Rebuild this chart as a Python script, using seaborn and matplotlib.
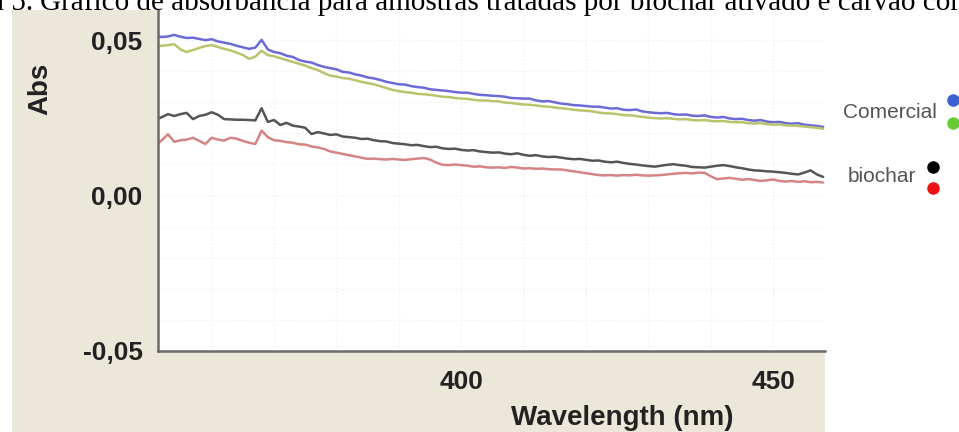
import numpy as np
import pandas as pd
import matplotlib
matplotlib.use("Agg")
import matplotlib.pyplot as plt
import seaborn as sns
from matplotlib.patches import Rectangle
from matplotlib.lines import Line2D

# wavelength grid (nm), 1 nm steps
wavelength = np.arange(351, 459)

comercial_a = [  # blue trace
    0.0513, 0.0510, 0.0512, 0.0517, 0.0511, 0.0507, 0.0508, 0.0504, 0.0500, 0.0503,
    0.0496, 0.0492, 0.0488, 0.0482, 0.0477, 0.0472, 0.0476, 0.0501, 0.0470, 0.0462,
    0.0458, 0.0450, 0.0446, 0.0436, 0.0431, 0.0428, 0.0420, 0.0414, 0.0410, 0.0406,
    0.0398, 0.0396, 0.0390, 0.0386, 0.0380, 0.0377, 0.0372, 0.0366, 0.0362, 0.0358,
    0.0357, 0.0352, 0.0349, 0.0347, 0.0342, 0.0340, 0.0338, 0.0336, 0.0333, 0.0331,
    0.0331, 0.0327, 0.0324, 0.0323, 0.0321, 0.0320, 0.0318, 0.0314, 0.0313, 0.0312,
    0.0312, 0.0306, 0.0303, 0.0304, 0.0300, 0.0296, 0.0294, 0.0291, 0.0290, 0.0288,
    0.0286, 0.0286, 0.0283, 0.0280, 0.0281, 0.0276, 0.0275, 0.0277, 0.0271, 0.0268,
    0.0266, 0.0265, 0.0266, 0.0262, 0.0260, 0.0261, 0.0257, 0.0256, 0.0258, 0.0253,
    0.0251, 0.0253, 0.0248, 0.0246, 0.0247, 0.0243, 0.0241, 0.0243, 0.0238, 0.0236,
    0.0237, 0.0233, 0.0231, 0.0233, 0.0228, 0.0226, 0.0224, 0.0221,
]
comercial_b = [  # green trace
    0.0480, 0.0482, 0.0484, 0.0487, 0.0470, 0.0462, 0.0468, 0.0475, 0.0481, 0.0484,
    0.0478, 0.0472, 0.0467, 0.0460, 0.0452, 0.0440, 0.0447, 0.0466, 0.0452, 0.0448,
    0.0442, 0.0436, 0.0430, 0.0424, 0.0418, 0.0410, 0.0404, 0.0394, 0.0386, 0.0383,
    0.0378, 0.0376, 0.0371, 0.0366, 0.0362, 0.0358, 0.0352, 0.0346, 0.0340, 0.0336,
    0.0333, 0.0331, 0.0327, 0.0326, 0.0324, 0.0321, 0.0318, 0.0317, 0.0314, 0.0312,
    0.0311, 0.0308, 0.0306, 0.0306, 0.0304, 0.0303, 0.0299, 0.0298, 0.0295, 0.0293,
    0.0292, 0.0290, 0.0287, 0.0286, 0.0283, 0.0281, 0.0279, 0.0276, 0.0274, 0.0273,
    0.0271, 0.0267, 0.0265, 0.0264, 0.0262, 0.0259, 0.0258, 0.0256, 0.0253, 0.0251,
    0.0249, 0.0248, 0.0249, 0.0247, 0.0245, 0.0246, 0.0243, 0.0242, 0.0243, 0.0240,
    0.0239, 0.0240, 0.0237, 0.0236, 0.0236, 0.0233, 0.0232, 0.0233, 0.0230, 0.0228,
    0.0229, 0.0226, 0.0225, 0.0224, 0.0222, 0.0220, 0.0218, 0.0215,
]
biochar_a = [  # black trace
    0.0244, 0.0252, 0.0262, 0.0256, 0.0262, 0.0266, 0.0246, 0.0256, 0.0260, 0.0268,
    0.0260, 0.0246, 0.0245, 0.0244, 0.0244, 0.0243, 0.0242, 0.0281, 0.0237, 0.0243,
    0.0227, 0.0234, 0.0225, 0.0222, 0.0218, 0.0198, 0.0204, 0.0200, 0.0195, 0.0197,
    0.0190, 0.0188, 0.0186, 0.0182, 0.0183, 0.0178, 0.0175, 0.0174, 0.0169, 0.0167,
    0.0165, 0.0162, 0.0163, 0.0159, 0.0156, 0.0157, 0.0152, 0.0150, 0.0151, 0.0147,
    0.0145, 0.0146, 0.0142, 0.0140, 0.0138, 0.0139, 0.0135, 0.0133, 0.0136, 0.0131,
    0.0128, 0.0130, 0.0126, 0.0124, 0.0125, 0.0122, 0.0119, 0.0117, 0.0118, 0.0115,
    0.0112, 0.0113, 0.0109, 0.0107, 0.0109, 0.0105, 0.0102, 0.0100, 0.0097, 0.0095,
    0.0093, 0.0096, 0.0099, 0.0101, 0.0098, 0.0096, 0.0092, 0.0091, 0.0090, 0.0093,
    0.0096, 0.0098, 0.0095, 0.0091, 0.0088, 0.0084, 0.0081, 0.0080, 0.0078, 0.0077,
    0.0075, 0.0073, 0.0070, 0.0068, 0.0074, 0.0081, 0.0068, 0.0060,
]
biochar_b = [  # red trace
    0.0160, 0.0178, 0.0197, 0.0173, 0.0178, 0.0180, 0.0186, 0.0176, 0.0166, 0.0186,
    0.0180, 0.0177, 0.0186, 0.0183, 0.0176, 0.0170, 0.0166, 0.0209, 0.0188, 0.0178,
    0.0176, 0.0172, 0.0170, 0.0165, 0.0164, 0.0158, 0.0155, 0.0150, 0.0142, 0.0138,
    0.0134, 0.0130, 0.0126, 0.0122, 0.0118, 0.0119, 0.0117, 0.0116, 0.0118, 0.0116,
    0.0115, 0.0117, 0.0119, 0.0121, 0.0116, 0.0106, 0.0099, 0.0098, 0.0100, 0.0098,
    0.0096, 0.0093, 0.0094, 0.0091, 0.0090, 0.0091, 0.0089, 0.0092, 0.0090, 0.0087,
    0.0088, 0.0086, 0.0087, 0.0085, 0.0084, 0.0084, 0.0081, 0.0078, 0.0075, 0.0072,
    0.0069, 0.0066, 0.0065, 0.0066, 0.0064, 0.0066, 0.0065, 0.0067, 0.0065, 0.0064,
    0.0065, 0.0066, 0.0068, 0.0070, 0.0072, 0.0073, 0.0071, 0.0074, 0.0073, 0.0062,
    0.0053, 0.0055, 0.0057, 0.0054, 0.0051, 0.0053, 0.0050, 0.0047, 0.0049, 0.0052,
    0.0047, 0.0045, 0.0047, 0.0044, 0.0046, 0.0043, 0.0044, 0.0042,
]

y_ticks = [-0.05, 0.0, 0.05]
y_tick_labels = ["-0,05", "0,00", "0,05"]
x_ticks = [400, 450]
x_tick_labels = ["400", "450"]

series_names = ["Comercial A", "Comercial B", "biochar A", "biochar B"]
line_colors = ["#6b6bd6", "#b9c46c", "#555555", "#d48484"]
dot_colors = ["#3a5fd0", "#66cc33", "#000000", "#ee1111"]

df = pd.DataFrame({
    "wavelength": np.tile(wavelength, 4),
    "abs": comercial_a + comercial_b + biochar_a + biochar_b,
    "serie": np.repeat(series_names, len(wavelength)),
})

sns.set_style("white")
plt.rcParams["font.family"] = ["Liberation Sans", "DejaVu Sans"]

W, H = 959, 432
fig = plt.figure(figsize=(W / 100, H / 100), dpi=100, facecolor="white")

# beige panel behind the plot
fig.patches.append(Rectangle((12 / W, 0), (825 - 12) / W, (H - 10) / H,
                             transform=fig.transFigure, facecolor="#ebe8da",
                             edgecolor="none", zorder=-10))

ax = fig.add_axes([158 / W, 1 - 351 / H, (825 - 158) / W, (351 - 10) / H])
ax.set_zorder(1)
ax.set_facecolor("white")

sns.lineplot(data=df, x="wavelength", y="abs", hue="serie", hue_order=series_names,
             palette=line_colors, linewidth=1.8, legend=False, ax=ax)

ax.set_xlim(351.4, 458.3)
ax.set_ylim(-0.05, 0.0597)

# faint dotted grid
for yv in np.arange(-0.04, 0.06, 0.01):
    ax.axhline(yv, color="#f1f1f1", lw=1, ls=":", zorder=0)
for xv in np.arange(360, 460, 10):
    ax.axvline(xv, color="#f1f1f1", lw=1, ls=":", zorder=0)

ax.set_yticks(y_ticks)
ax.set_yticklabels(y_tick_labels)
ax.set_xticks(x_ticks)
ax.set_xticklabels(x_tick_labels)
ax.tick_params(axis="both", direction="out", length=6, width=1.3, color="#555555",
               labelsize=19, labelcolor="#222222")
ax.tick_params(axis="x", pad=8)
ax.tick_params(axis="y", pad=5)
for lab in ax.get_xticklabels() + ax.get_yticklabels():
    lab.set_fontweight("bold")

for side in ["top", "right"]:
    ax.spines[side].set_visible(False)
for side in ["left", "bottom"]:
    ax.spines[side].set_color("#6b6b6b")
    ax.spines[side].set_linewidth(1.8)

ax.set_xlabel("")
ax.set_ylabel("")
fig.text(622 / W, 1 - 418 / H, "Wavelength (nm)", ha="center", va="center",
         fontsize=20, fontweight="bold", color="#222222")
fig.text(40 / W, 1 - 89 / H, "Abs", ha="center", va="center", rotation=90,
         fontsize=20, fontweight="bold", color="#222222")

# legend at the right, outside the panel
fig.text(843 / W, 1 - 112 / H, "Comercial", ha="left", va="center",
         fontsize=15, color="#555555")
fig.text(848 / W, 1 - 177 / H, "biochar", ha="left", va="center",
         fontsize=15, color="#555555")
for (px, py), c in zip([(953, 100), (953, 123), (933, 167), (933, 188)], dot_colors):
    fig.add_artist(Line2D([px / W], [1 - py / H], marker="o", markersize=8,
                          color=c, transform=fig.transFigure))

# caption, partly cut off at the top edge as in the source
cap_font = ["Liberation Serif", "DejaVu Serif"]
fig.text(33 / W, 1 - 10 / H, "Figura 5.", ha="right", va="baseline",
         fontsize=21, family=cap_font, color="black")
fig.text(40 / W, 1 - 10 / H,
         "Gráfico de absorbância para amostras tratadas por biochar ativado e carvão comercial",
         ha="left", va="baseline", fontsize=21, family=cap_font, color="black")

fig.savefig("out.png", dpi=100, facecolor="white")
